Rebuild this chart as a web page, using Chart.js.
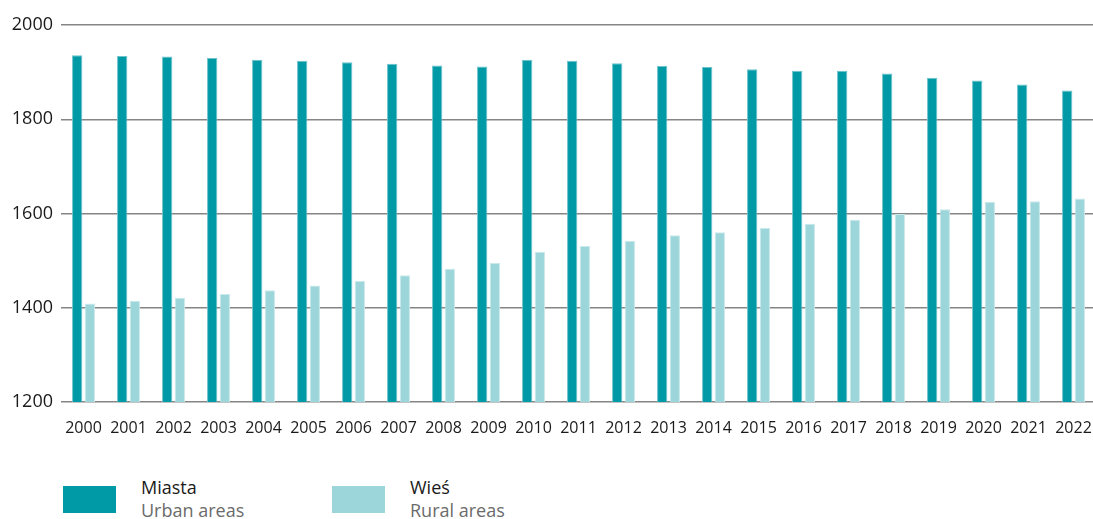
<!DOCTYPE html>
<html>
<head>
<meta charset="utf-8">
<script src="https://cdn.jsdelivr.net/npm/chart.js@4.4.1/dist/chart.umd.min.js"></script>
<style>
  html, body { margin: 0; padding: 0; background: #fff; }
  body { width: 1093px; height: 519px; position: relative; overflow: hidden; font-family: "Open Sans", sans-serif; }
  #wrap { position: absolute; left: 0; top: 0; width: 1096px; height: 450px; }
  .box { position: absolute; width: 53px; height: 27px; top: 486px; }
  .lab { position: absolute; top: 476px; font-size: 18px; line-height: 23px; color: #1a1a1a; white-space: nowrap; }
  .lab span { display: block; color: #6b6b6b; }
</style>
</head>
<body>
<div id="wrap"><canvas id="chart"></canvas></div>

<div class="box" style="left:63px;background:#009aa6"></div>
<div class="lab" style="left:141px">Miasta<span>Urban areas</span></div>
<div class="box" style="left:332px;background:#9dd6da"></div>
<div class="lab" style="left:410px">Wieś<span>Rural areas</span></div>

<script>
// ===== DATA =====
const years = ['2000','2001','2002','2003','2004','2005','2006','2007','2008','2009','2010',
               '2011','2012','2013','2014','2015','2016','2017','2018','2019','2020','2021','2022'];

const urban = [1936, 1934, 1933, 1930, 1926, 1924, 1921, 1918, 1914, 1912, 1926,
               1924, 1919, 1913, 1911, 1906, 1903, 1903, 1897, 1888, 1882, 1874, 1861];

const rural = [1409, 1415, 1421, 1429, 1437, 1447, 1457, 1469, 1483, 1495, 1519,
               1531, 1542, 1554, 1560, 1569, 1578, 1587, 1599, 1609, 1625, 1626, 1632];

const yTicks = [1200, 1400, 1600, 1800, 2000];

// ===== CHART =====
const ctx = document.getElementById('chart').getContext('2d');
new Chart(ctx, {
  type: 'bar',
  data: {
    labels: years,
    datasets: [
      {
        label: 'Miasta',
        data: urban,
        backgroundColor: '#009aa6',
        borderColor: '#6cc3ca',
        borderWidth: { left: 1, right: 1, top: 1, bottom: 0 },
        categoryPercentage: 0.56,
        barPercentage: 0.82
      },
      {
        label: 'Wieś',
        data: rural,
        backgroundColor: '#9dd6da',
        borderColor: '#c9e9eb',
        borderWidth: { left: 1, right: 1, top: 1, bottom: 0 },
        categoryPercentage: 0.56,
        barPercentage: 0.82
      }
    ]
  },
  options: {
    responsive: true,
    maintainAspectRatio: false,
    animation: false,
    layout: { padding: { top: 25, right: 0, left: 0, bottom: 0 } },
    plugins: {
      legend: { display: false },
      tooltip: { enabled: false }
    },
    scales: {
      x: {
        grid: { display: false },
        border: { display: false },
        ticks: {
          color: '#1a1a1a',
          font: { family: 'Open Sans', size: 16 },
          maxRotation: 0,
          autoSkip: false,
          padding: 9
        },
        afterFit: s => {
          s.height = 48;
          s.paddingLeft = 0;
          s.paddingRight = 0;
        }
      },
      y: {
        min: yTicks[0],
        max: yTicks[yTicks.length - 1],
        afterBuildTicks: s => { s.ticks = yTicks.map(v => ({ value: v })); },
        grid: { color: '#858585', lineWidth: 1.5, drawTicks: false },
        border: { display: false },
        ticks: {
          color: '#1a1a1a',
          font: { family: 'Open Sans', size: 18 },
          padding: 8,
          callback: v => String(v)
        },
        afterFit: s => { s.width = 61; }
      }
    }
  }
});
</script>
</body>
</html>
